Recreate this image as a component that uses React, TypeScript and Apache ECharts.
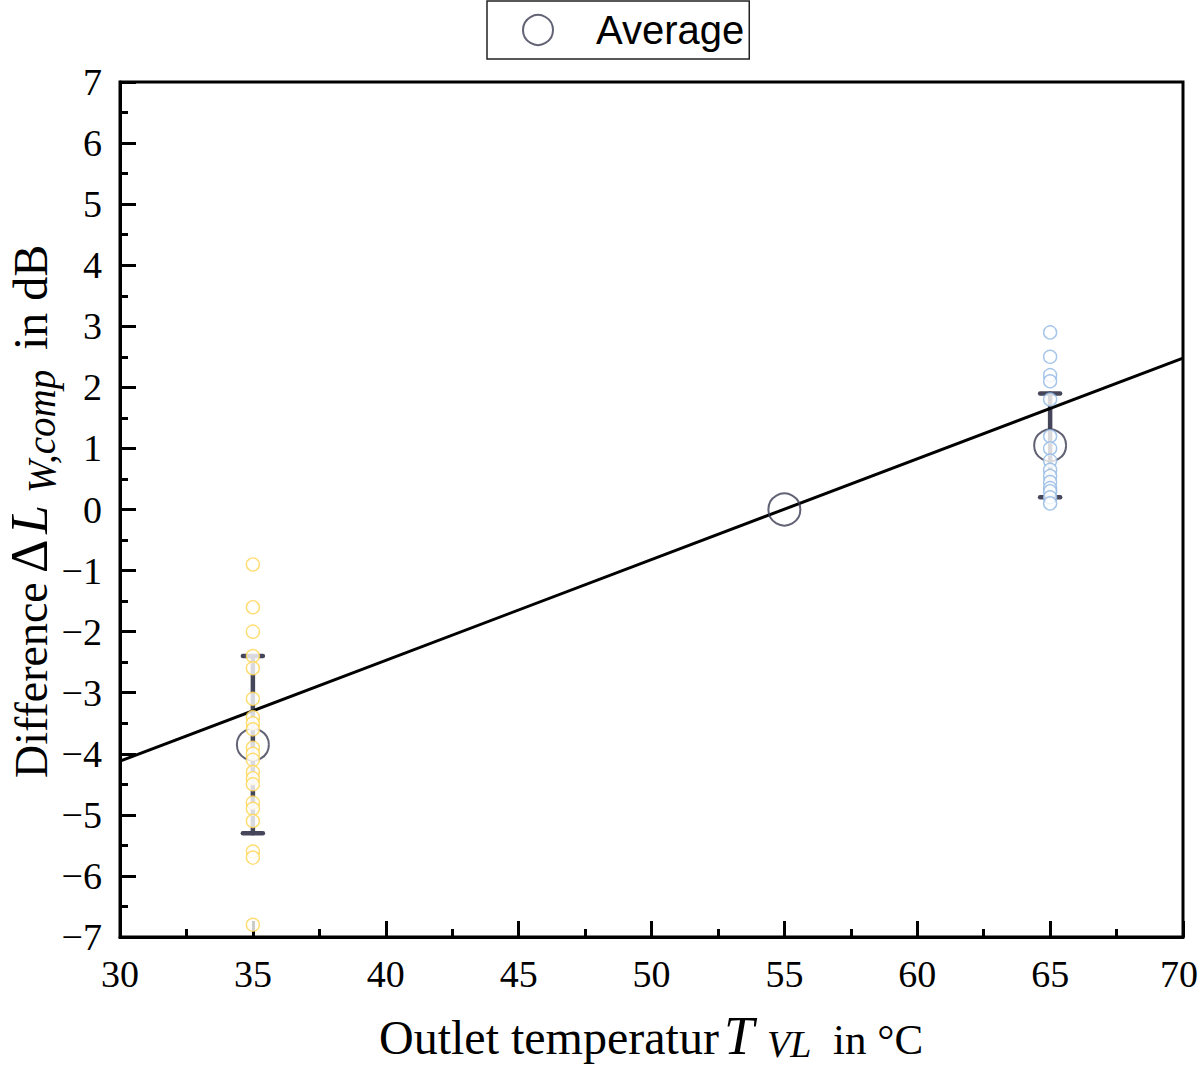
import React, { useEffect, useRef } from "react";
import * as echarts from "echarts";

// ---- data ----
const xTicks = [30, 35, 40, 45, 50, 55, 60, 65, 70];
const yTicks = [-7, -6, -5, -4, -3, -2, -1, 0, 1, 2, 3, 4, 5, 6, 7];
const group35X = 35;
const group35Y = [-0.9, -1.6, -2.0, -2.4, -2.6, -3.1, -3.4, -3.5, -3.6, -3.9, -4.0, -4.1, -4.3, -4.4, -4.5, -4.8, -4.9, -5.1, -5.6, -5.7, -6.8];
const group65X = 65;
const group65Y = [2.9, 2.5, 2.2, 2.1, 1.8, 1.2, 1.0, 0.8, 0.65, 0.55, 0.45, 0.35, 0.3, 0.2, 0.1];
const avgX = [35, 55, 65];
const avgY = [-3.85, 0, 1.05];
const errX = [35, 65];
const errLow = [-5.3, 0.2];
const errHigh = [-2.4, 1.9];
const fitX = [30, 70];
const fitY = [-4.12, 2.48];

const SERIF = "'Liberation Serif', 'DejaVu Serif', serif";
const SANS = "'Liberation Sans', Arial, sans-serif";

function fmtNum(v: number) {
  return String(v).replace("-", "\u2212");
}

// a text piece placed by its left edge and its baseline (local coordinates)
function piece(text: string, x: number, baseline: number, size: number, italic = false) {
  return {
    type: "text",
    x,
    y: baseline - 0.34 * size,
    silent: true,
    style: {
      text,
      fontFamily: SERIF,
      fontSize: size,
      fontStyle: italic ? "italic" : "normal",
      fill: "#000",
      align: "left",
      verticalAlign: "middle",
    },
  };
}

export default function App() {
  const ref = useRef<HTMLDivElement>(null);
  useEffect(() => {
    document.body.style.margin = "0";
    if (!ref.current) return;
    const chart = echarts.init(ref.current, undefined, { renderer: "svg" });

    const xTitle = {
      type: "group",
      x: 0,
      y: 0,
      children: [
        piece("Outlet temperatur", 379, 1054, 48),
        piece("T", 724, 1054, 54, true),
        piece("VL", 767, 1057, 38, true),
        piece("in °C", 833, 1054, 43),
      ],
    };
    // rotated title, reading bottom to top; local x runs upward from y=778, local y=0 is the baseline
    const yTitle = {
      type: "group",
      x: 47,
      y: 778,
      rotation: Math.PI / 2,
      children: [
        piece("Difference", 0, 0, 46),
        piece("Δ", 205, 0, 52),
        piece("L", 244, 0, 52, true),
        piece("W,comp", 285, 8, 39, true),
        piece("in dB", 428, 0, 48),
      ],
    };

    const xMax = xTicks[xTicks.length - 1];

    const option: any = {
      animation: false,
      backgroundColor: "#fff",
      grid: {
        left: 120,
        right: 17,
        top: 82,
        bottom: 129,
        containLabel: false,
        outerBoundsMode: "none",
        show: true,
        borderColor: "#000",
        borderWidth: 3,
        backgroundColor: "transparent",
      },
      legend: {
        left: 487,
        top: 1,
        orient: "horizontal",
        borderColor: "#222",
        borderWidth: 1.5,
        borderRadius: 0,
        padding: [9, 5, 9, 35],
        itemWidth: 30,
        itemHeight: 30,
        data: [
          {
            name: "Average",
            icon: "circle",
            itemStyle: { color: "rgba(0,0,0,0)", borderColor: "#3b3b52", borderWidth: 2 },
          },
        ],
        textStyle: {
          fontFamily: SANS,
          fontSize: 40,
          color: "#000",
          padding: [0, 0, 0, 38],
          lineHeight: 36,
        },
      },
      graphic: [xTitle, yTitle],
      xAxis: {
        type: "value",
        min: xTicks[0],
        max: xMax,
        interval: 5,
        axisLine: { show: true, onZero: false, lineStyle: { color: "#000", width: 3 } },
        axisTick: { show: true, inside: true, length: 16, lineStyle: { color: "#000", width: 3 } },
        minorTick: { show: true, splitNumber: 2, length: 8, lineStyle: { color: "#000", width: 3 } },
        splitLine: { show: false },
        axisLabel: {
          fontFamily: SERIF,
          fontSize: 38,
          color: "#000",
          margin: 18,
          formatter: (v: number) => (v === xMax ? "{last|" + fmtNum(v) + "}" : fmtNum(v)),
          rich: {
            last: { fontFamily: SERIF, fontSize: 38, color: "#000", padding: [0, 8, 0, 0] },
          },
        },
      },
      yAxis: {
        type: "value",
        min: yTicks[0],
        max: yTicks[yTicks.length - 1],
        interval: 1,
        axisLine: { show: true, onZero: false, lineStyle: { color: "#000", width: 3 } },
        axisTick: { show: true, inside: true, length: 16, lineStyle: { color: "#000", width: 3 } },
        minorTick: { show: true, splitNumber: 2, length: 8, lineStyle: { color: "#000", width: 3 } },
        splitLine: { show: false },
        axisLabel: {
          fontFamily: SERIF,
          fontSize: 38,
          color: "#000",
          margin: 18,
          formatter: (v: number) => fmtNum(v),
        },
      },
      series: [
        {
          name: "errorbars",
          type: "custom",
          z: 1,
          data: errX.map((x, i) => [x, errLow[i], errHigh[i]]),
          renderItem: (params: any, api: any) => {
            const x = api.value(0);
            const lo = api.coord([x, api.value(1)]);
            const hi = api.coord([x, api.value(2)]);
            const half = 10;
            const style = { stroke: "#45465a", lineWidth: 4.5, lineCap: "round" };
            return {
              type: "group",
              children: [
                { type: "line", shape: { x1: lo[0], y1: lo[1], x2: hi[0], y2: hi[1] }, style },
                { type: "line", shape: { x1: lo[0] - half, y1: lo[1], x2: lo[0] + half, y2: lo[1] }, style },
                { type: "line", shape: { x1: hi[0] - half, y1: hi[1], x2: hi[0] + half, y2: hi[1] }, style },
              ],
            };
          },
        },
        {
          name: "fit",
          type: "line",
          z: 2,
          symbol: "none",
          data: fitX.map((x, i) => [x, fitY[i]]),
          lineStyle: { color: "#000", width: 3 },
        },
        {
          name: "Average",
          type: "scatter",
          z: 3,
          symbol: "circle",
          symbolSize: 32,
          data: avgX.map((x, i) => [x, avgY[i]]),
          itemStyle: { color: "rgba(0,0,0,0)", borderColor: "#3b3b52", borderWidth: 2 },
        },
        {
          name: "T35",
          type: "scatter",
          z: 4,
          symbol: "circle",
          symbolSize: 13,
          data: group35Y.map((y) => [group35X, y]),
          itemStyle: { color: "#fff", borderColor: "#FFD54F", borderWidth: 1.4 },
        },
        {
          name: "T65",
          type: "scatter",
          z: 4,
          symbol: "circle",
          symbolSize: 13,
          data: group65Y.map((y) => [group65X, y]),
          itemStyle: { color: "#fff", borderColor: "#8FB6E3", borderWidth: 1.4 },
        },
      ],
    };
    chart.setOption(option);
    return () => chart.dispose();
  }, []);
  return <div ref={ref} style={{ width: 1200, height: 1066 }} />;
}
